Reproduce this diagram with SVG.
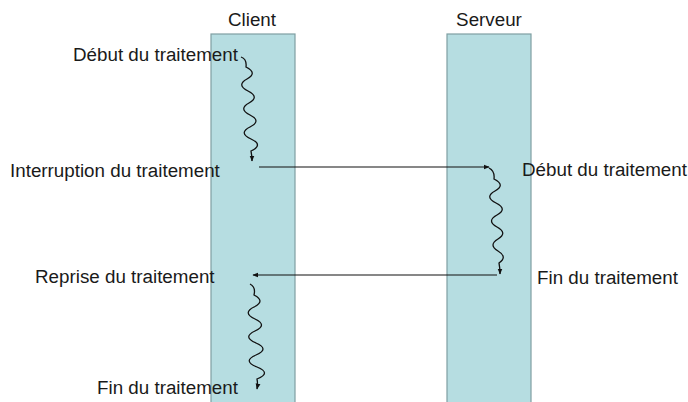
<svg xmlns="http://www.w3.org/2000/svg" width="688" height="402" viewBox="0 0 688 402">
<defs>
<style>
.lane{fill:#b6dde1;stroke:#7f9fa2;stroke-width:1.2}
.t{font-family:"Liberation Sans",Arial,sans-serif;font-size:18.8px;fill:#1a1a1a}
.w{fill:none;stroke:#111;stroke-width:1.3}
.a{fill:none;stroke:#111;stroke-width:1.2}
</style>
<marker id="ah" viewBox="0 0 10 10" refX="9" refY="5" markerWidth="6" markerHeight="6" markerUnits="userSpaceOnUse" orient="auto">
<path d="M0,1 L10,5 L0,9 z" fill="#111"/>
</marker>
</defs>
<rect width="688" height="402" fill="#fff"/>
<g id="client">
<rect class="lane" x="211" y="34" width="84" height="380"/>
<text class="t" x="252" y="26" text-anchor="middle">Client</text>
</g>
<g id="serveur">
<rect class="lane" x="447" y="34" width="84" height="380"/>
<text class="t" x="489" y="26" text-anchor="middle">Serveur</text>
</g>
<g id="labels">
<text class="t" x="73" y="61">Début du traitement</text>
<text class="t" x="10" y="177">Interruption du traitement</text>
<text class="t" x="35" y="283">Reprise du traitement</text>
<text class="t" x="97" y="394">Fin du traitement</text>
<text class="t" x="522" y="176">Début du traitement</text>
<text class="t" x="537" y="284">Fin du traitement</text>
</g>
<g id="connectors">
<path class="w" marker-end="url(#ah)" d="M241,57 Q247,59 246,67 Q258,73 247,79 T248,91 T249,103 T250,115 T250,127 T251,139 T251,151 Q252,156 252,161"/>
<line class="a" x1="259" y1="167" x2="489" y2="167" marker-end="url(#ah)"/>
<path class="w" marker-end="url(#ah)" d="M489,168 Q495,171 494,179 Q506,185 495,191 T496,203 T497,215 T497,227 T498,239 T498,251 T499,263 Q500,268 500,274"/>
<line class="a" x1="497" y1="275" x2="253" y2="275" marker-end="url(#ah)"/>
<path class="w" marker-end="url(#ah)" d="M250,284 Q256,287 254,295 Q266,301 254,307 T255,319 T255,331 T256,343 T256,355 T257,367 T257,379 Q258,384 257,389"/>
</g>
</svg>
